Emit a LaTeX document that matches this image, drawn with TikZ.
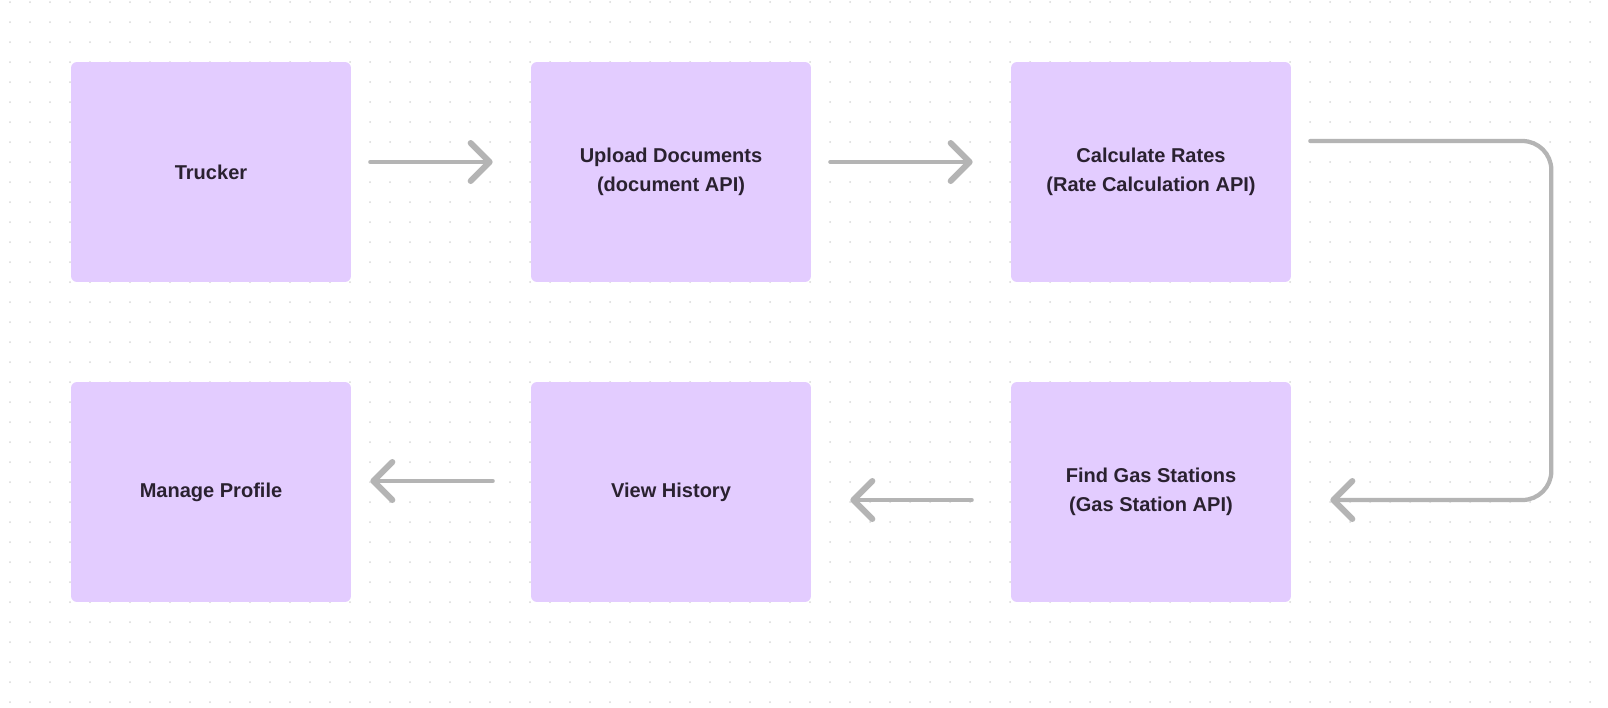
\documentclass[tikz,border=0pt]{standalone}
\usepackage{fontspec}
\setmainfont{Liberation Sans}
\usetikzlibrary{arrows.meta,calc}
\definecolor{boxfill}{HTML}{E3CCFF}
\definecolor{boxtext}{HTML}{2A2130}
\definecolor{linegray}{HTML}{B4B4B4}
\definecolor{dotgray}{HTML}{D8D8D8}
\begin{document}
\begin{tikzpicture}[x=0.02cm,y=-0.02cm,
    stage/.style={fill=boxfill, rounded corners=0.12cm, minimum width=5.6cm, minimum height=4.4cm,
        align=center, text=boxtext, font=\fontsize{11.4}{16.4}\selectfont\bfseries},
    flow/.style={draw=linegray, line width=0.085cm, line cap=round,
        -{Straight Barb[length=0.38cm,width=0.76cm,line width=1pt 1,round]}}]
    \useasboundingbox (0,0) rectangle (1608,707);
    \fill[white] (0,0) rectangle (1608,707);
    \foreach \x in {10,30,...,1600}
        \foreach \y in {2,22,...,702}
            \fill[dotgray] (\x,\y) circle(0.02cm);

    \node[stage] (trucker) at (211,172) {Trucker};
    \node[stage] (upload) at (671,172) {Upload Documents\\(document API)};
    \node[stage] (rates) at (1151,172) {Calculate Rates\\(Rate Calculation API)};
    \node[stage] (gas) at (1151,492) {Find Gas Stations\\(Gas Station API)};
    \node[stage] (history) at (671,492) {View History};
    \node[stage] (profile) at (211,492) {Manage Profile};

    \draw[flow] ($(trucker.east)+(19,-10)$) -- ($(upload.west)+(-38,-10)$);
    \draw[flow] ($(upload.east)+(19,-10)$) -- ($(rates.west)+(-38,-10)$);
    \draw[flow, rounded corners=0.58cm] ($(rates.east)+(19,-31)$) -- ++(241,0) |- ($(gas.east)+(39,8)$);
    \draw[flow] ($(gas.west)+(-39,8)$) -- ($(history.east)+(39,8)$);
    \draw[flow] ($(history.west)+(-38,-11)$) -- ($(profile.east)+(19,-11)$);
\end{tikzpicture}
\end{document}
